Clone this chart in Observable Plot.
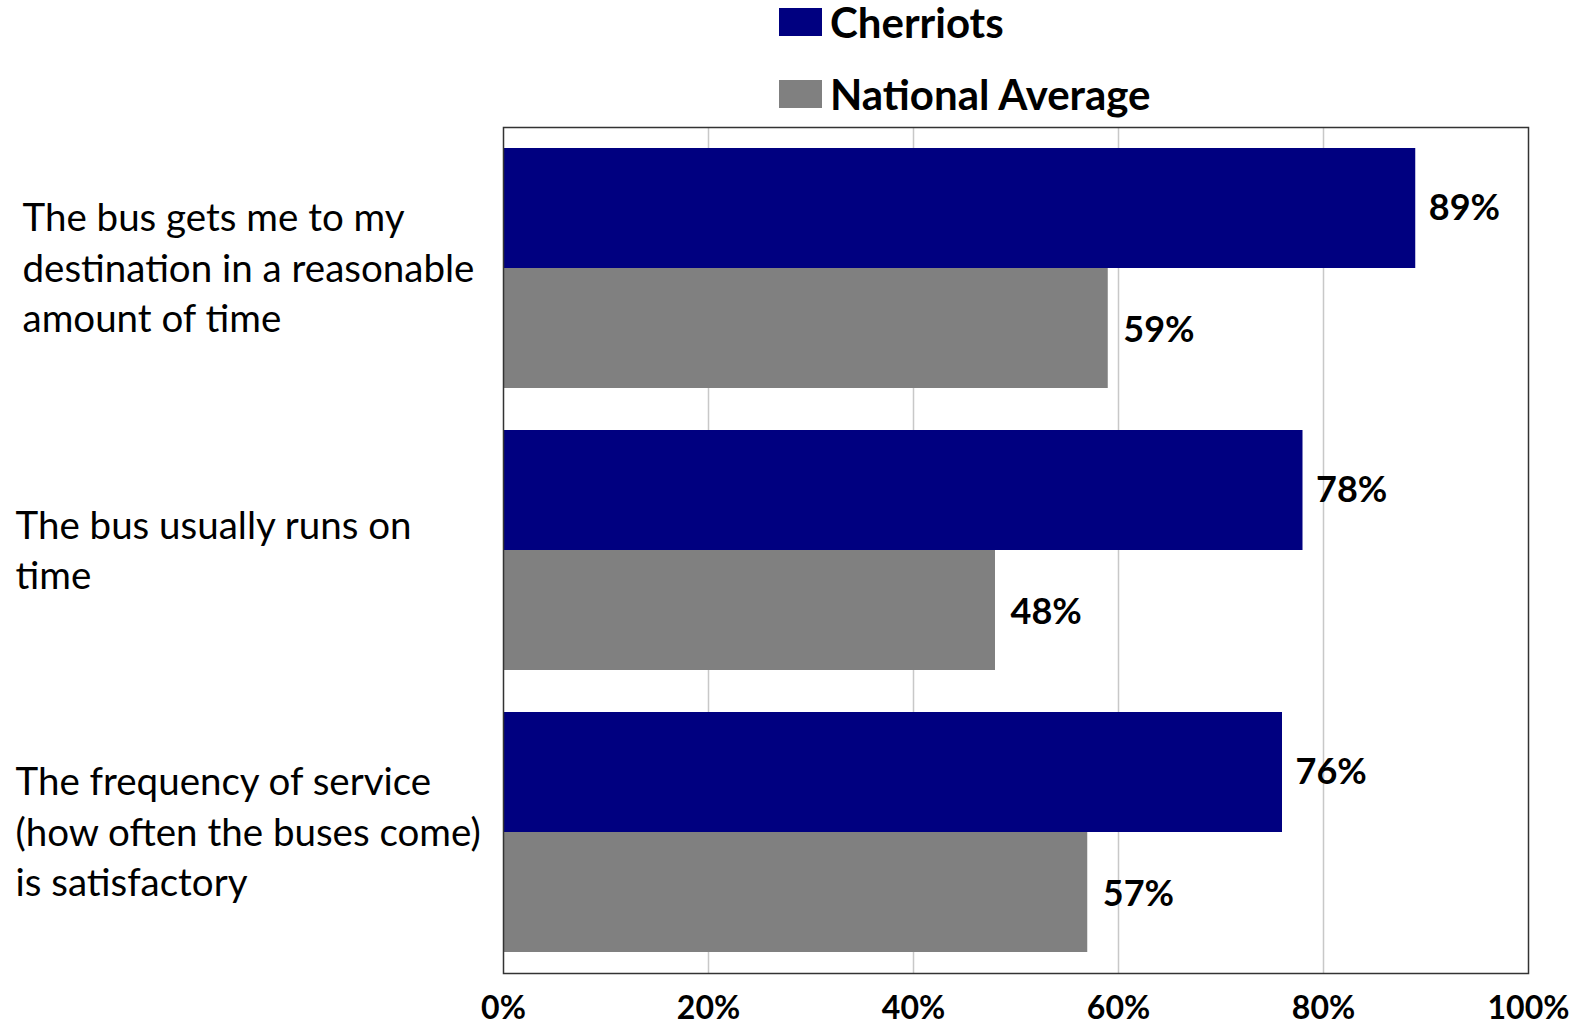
<!DOCTYPE html>
<html>
<head>
<meta charset="utf-8">
<script src="https://cdn.jsdelivr.net/npm/d3@7"></script>
<script src="https://cdn.jsdelivr.net/npm/@observablehq/plot@0.6"></script>
<style>
  html, body { margin: 0; padding: 0; background: #fff; overflow: hidden; }
  body { width: 1583px; height: 1026px; font-family: Lato, "Open Sans", sans-serif; }
  #legend { position: relative; height: 120px; }
  .row { position: absolute; left: 779px; display: flex; align-items: center; font-weight: bold; font-size: 42px; color: #000; line-height: 1; }
  .sw { width: 43px; height: 28px; margin-right: 8px; }
  #chart svg { display: block; }
</style>
</head>
<body>
<div id="legend"></div>
<div id="chart"></div>
<script>
// Survey statements (y categories), one label per line break
const categories = [
  "The bus gets me to my\ndestination in a reasonable\namount of time",
  "The bus usually runs on\ntime",
  "The frequency of service\n(how often the buses come)\nis satisfactory"
];
const series = ["Cherriots", "National Average"];
const colors = ["#000080", "#808080"];
// Percent agreeing
const cherriots = [89, 78, 76];
const national = [59, 48, 57];
const xTicks = [0, 20, 40, 60, 80, 100];

const rowsC = categories.map((c, i) => ({category: c, series: series[0], value: cherriots[i]}));
const rowsN = categories.map((c, i) => ({category: c, series: series[1], value: national[i]}));

// Legend above the chart
const legend = document.getElementById("legend");
series.forEach((s, i) => {
  const row = document.createElement("div");
  row.className = "row";
  row.style.top = (i === 0 ? 1 : 73) + "px";
  row.innerHTML = `<div class="sw" style="background:${colors[i]}"></div><span>${s}</span>`;
  legend.appendChild(row);
});

const half = 120; // half of each category band: upper half Cherriots, lower half national

const chart = Plot.plot({
  width: 1583,
  height: 906,
  marginTop: 7,
  marginLeft: 503,
  marginRight: 55,
  marginBottom: 53,
  style: {fontFamily: "Lato, 'Open Sans', sans-serif", color: "#000", background: "#fff"},
  x: {domain: [0, 100], label: null},
  y: {domain: categories, paddingInner: 0.15, paddingOuter: 0.075, axis: null},
  color: {domain: series, range: colors},
  marks: [
    Plot.gridX(xTicks.slice(1, -1), {stroke: "#c8c8c8", strokeOpacity: 1, strokeWidth: 1.5}),
    Plot.barX(rowsC, {x: "value", y: "category", fill: "series", insetBottom: half}),
    Plot.barX(rowsN, {x: "value", y: "category", fill: "series", insetTop: half}),
    Plot.text(rowsC, {x: "value", y: "category", text: d => d.value + "%", dy: -half / 2, dx: 13,
      textAnchor: "start", fontWeight: "bold", fontSize: 36}),
    Plot.text(rowsN, {x: "value", y: "category", text: d => d.value + "%", dy: half / 2 + 2, dx: 15,
      textAnchor: "start", fontWeight: "bold", fontSize: 36}),
    Plot.text(categories.slice(0, 1), {y: d => d, frameAnchor: "left", textAnchor: "start", dx: -481, dy: -3,
      fontSize: 38.5, lineHeight: 1.3}),
    Plot.text(categories.slice(1), {y: d => d, frameAnchor: "left", textAnchor: "start", dx: -488, dy: -3,
      fontSize: 38.5, lineHeight: 1.3}),
    Plot.axisX({ticks: xTicks, tickFormat: d => d + "%", tickSize: 0, tickPadding: 23,
      fontSize: 32, fontWeight: "bold", label: null}),
    Plot.frame({stroke: "#333", strokeWidth: 1.5})
  ]
});
document.getElementById("chart").appendChild(chart);
</script>
</body>
</html>
